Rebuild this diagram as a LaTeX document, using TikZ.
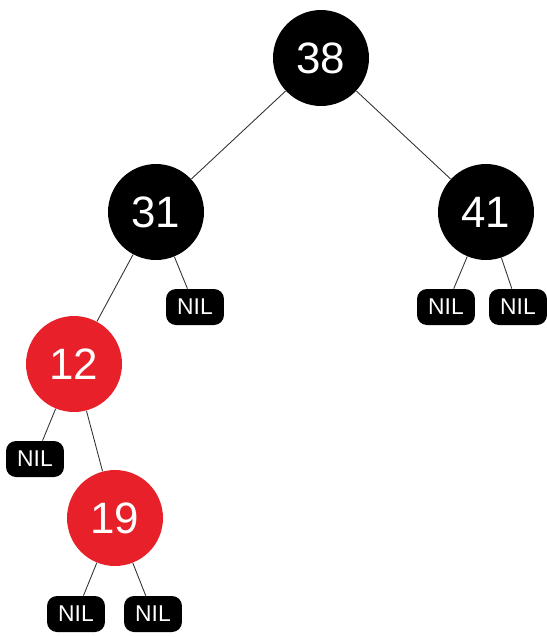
\documentclass[tikz,border=0pt]{standalone}
\usepackage{fontspec}
\setmainfont{Liberation Sans}
\usepackage{tikz}
\definecolor{rbred}{HTML}{E8202A}
\definecolor{edgegray}{HTML}{333333}

\begin{document}
\begin{tikzpicture}[x=.02cm,y=-.02cm,
  blk/.style={circle,fill=black,text=white,minimum size=1.92cm,inner sep=0pt,font=\fontsize{25}{25}\selectfont},
  rd/.style={blk,fill=rbred},
  nil/.style={rectangle,rounded corners=.2cm,fill=black,text=white,minimum width=1.16cm,minimum height=.72cm,inner sep=0pt,font=\fontsize{13}{13}\selectfont},
  edge/.style={edgegray,line width=.5pt}]
  \useasboundingbox (0,0) rectangle (547,637);
  % inner nodes
  \node[blk] (n38) at (321,58) {38};
  \node[blk] (n31) at (156,212) {31};
  \node[blk] (n41) at (486,212) {41};
  \node[rd] (n12) at (74,364) {12};
  \node[rd] (n19) at (115,518) {19};
  % leaves
  \node[nil] (nil31) at (195,307) {NIL};
  \node[nil] (nil41a) at (446,307) {NIL};
  \node[nil] (nil41b) at (518,307) {NIL};
  \node[nil] (nil12) at (35,459) {NIL};
  \node[nil] (nil19a) at (76,614) {NIL};
  \node[nil] (nil19b) at (153,614) {NIL};
  % edges
  \draw[edge] (n38) -- (n31);
  \draw[edge] (n38) -- (n41);
  \draw[edge] (n31) -- (n12);
  \draw[edge] (n31) -- (nil31);
  \draw[edge] (n41) -- (nil41a);
  \draw[edge] (n41) -- (nil41b);
  \draw[edge] (n12) -- (nil12);
  \draw[edge] (n12) -- (n19);
  \draw[edge] (n19) -- (nil19a);
  \draw[edge] (n19) -- (nil19b);
\end{tikzpicture}
\end{document}
